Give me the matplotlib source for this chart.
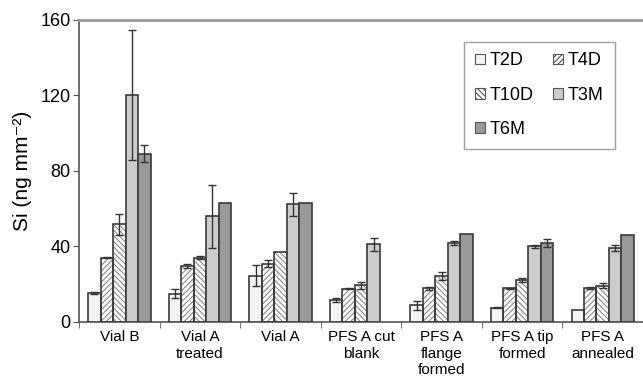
import numpy as np
import matplotlib.pyplot as plt
from matplotlib.patches import Patch

plt.rcParams['font.family'] = ['Liberation Sans', 'DejaVu Sans']
plt.rcParams['hatch.linewidth'] = 0.8

# 数据
categories = ['Vial B', 'Vial A\ntreated', 'Vial A', 'PFS A cut\nblank',
              'PFS A\nflange\nformed', 'PFS A tip\nformed', 'PFS A\nannealed']
series = ['T2D', 'T4D', 'T10D', 'T3M', 'T6M']

t2d = [15.4, 14.9, 24.4, 11.5, 8.6, 7.3, 6.4]
t4d = [34.0, 29.4, 30.8, 17.4, 17.7, 17.6, 17.9]
t10d = [51.6, 34.0, 36.8, 19.3, 24.2, 22.0, 19.0]
t3m = [120.0, 55.8, 62.2, 41.0, 41.5, 40.1, 39.0]
t6m = [89.0, 62.9, 62.9, np.nan, 46.5, 41.9, 45.8]

t2d_err = [0.5, 2.5, 5.5, 1.3, 2.4, 0.3, 0]
t4d_err = [0.4, 1.0, 1.8, 0.3, 0.7, 0.5, 0.5]
t10d_err = [5.5, 1.0, 0, 1.8, 2.0, 1.2, 1.4]
t3m_err = [34.5, 16.5, 6.0, 3.4, 1.0, 0.8, 1.6]
t6m_err = [4.5, 0, 0, 0, 0, 2.1, 0]

values = [t2d, t4d, t10d, t3m, t6m]
errors = [t2d_err, t4d_err, t10d_err, t3m_err, t6m_err]
faces = ['#f4f4f4', 'white', 'white', '#cccccc', '#999999']
hatches = [None, '//////', '\\\\\\\\\\\\', None, None]

fig = plt.figure(figsize=(6.43, 3.82), dpi=100)
ax = fig.add_axes([0.123, 0.158, 0.877, 0.79])

x = np.arange(len(categories))
w = 0.155
for i, name in enumerate(series):
    pos = x + (i - 2) * w
    vals = np.array(values[i], dtype=float)
    errs = np.array(errors[i], dtype=float)
    if hatches[i]:
        ax.bar(pos, vals, w, color=faces[i], edgecolor='#8a8a8a', hatch=hatches[i], linewidth=0, zorder=2)
        ax.bar(pos, vals, w, fill=False, edgecolor='#3a3a3a', linewidth=1.2, zorder=3)
    else:
        ax.bar(pos, vals, w, color=faces[i], edgecolor='#3a3a3a', linewidth=1.2, zorder=3)
    m = errs > 0
    ax.errorbar(pos[m], vals[m], yerr=errs[m], fmt='none', ecolor='#333333',
                elinewidth=1, capsize=3, capthick=1, zorder=4)

ax.set_xlim(-0.5, len(categories) - 0.5)
ax.set_ylim(0, 160)
ax.set_yticks([0, 40, 80, 120, 160])
ax.set_xticks(x)
ax.set_xticklabels(categories, fontsize=11, linespacing=1.25)
ax.set_xticks(np.arange(len(categories) + 1) - 0.5, minor=True)
ax.tick_params(axis='x', which='major', length=0, pad=6)
ax.tick_params(axis='x', which='minor', length=4, color='#555555')
ax.tick_params(axis='y', labelsize=13, length=4, color='#555555', pad=2)
ax.set_ylabel('Si (ng mm⁻²)', fontsize=15, labelpad=6)

for s in ['left', 'bottom']:
    ax.spines[s].set_color('#555555')
    ax.spines[s].set_linewidth(1.2)
ax.spines['top'].set_color('#999999')
ax.spines['top'].set_linewidth(2)
ax.spines['right'].set_visible(False)

handles = [Patch(facecolor=faces[i], edgecolor='#555555', hatch=hatches[i], linewidth=0.8, label=series[i])
           for i in range(len(series))]
order = [0, 2, 4, 1, 3]
leg = ax.legend([handles[i] for i in order], [series[i] for i in order], ncol=2,
                loc='upper left', bbox_to_anchor=(0.683, 0.928), borderaxespad=0,
                fancybox=False, edgecolor='#888888', fontsize=13,
                handlelength=0.55, handleheight=0.55, handletextpad=0.25,
                labelspacing=0.95, columnspacing=1.1, borderpad=0.6)
leg.get_frame().set_linewidth(1)

fig.savefig('out.png', dpi=100)
